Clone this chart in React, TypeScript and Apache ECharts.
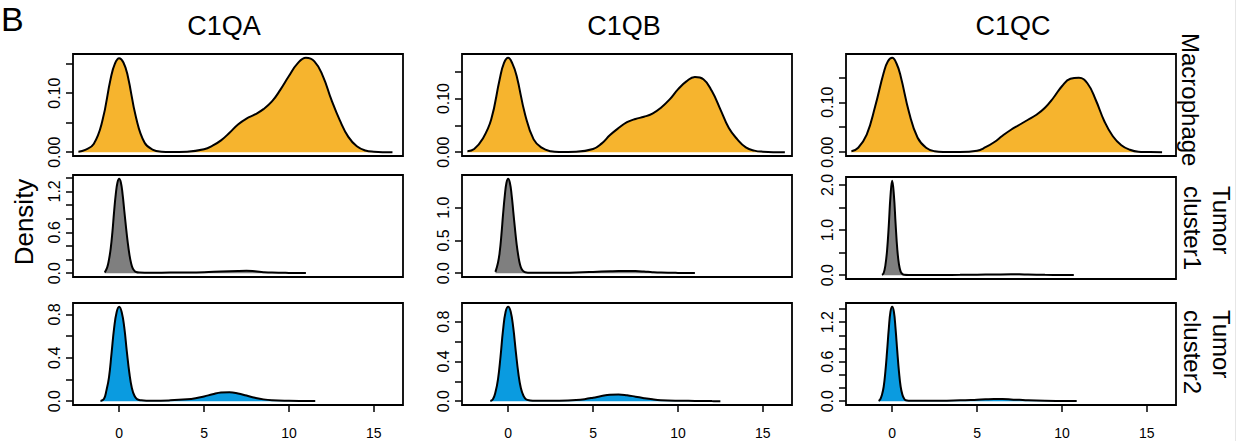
import React, { useEffect, useRef } from "react";
import * as echarts from "echarts";

// ---------- data ----------
const genes = ["C1QA", "C1QB", "C1QC"];
const groups = ["Macrophage", "Tumor\ncluster1", "Tumor\ncluster2"];
const fillColors = ["#F6B42E", "#7F7F7F", "#0A9BE0"];
const xTickValues = [0, 5, 10, 15];

const c1qaMacrophage: [number, number][] = [
  [-2.4, 0.001], [-2, 0.004], [-1.5, 0.014], [-1, 0.052], [-0.5, 0.125], [-0.25, 0.15], [0, 0.159],
  [0.25, 0.152], [0.5, 0.13], [1, 0.058], [1.5, 0.016], [2, 0.004], [2.5, 0.001], [3, 0.0005],
  [4, 0.001], [5, 0.005], [5.5, 0.011], [6, 0.02], [6.5, 0.033], [7, 0.047], [7.5, 0.057],
  [8, 0.064], [8.5, 0.073], [9, 0.086], [9.5, 0.106], [10, 0.129], [10.5, 0.15], [11, 0.16],
  [11.5, 0.154], [12, 0.129], [12.5, 0.089], [13, 0.054], [13.5, 0.026], [14, 0.01],
  [14.5, 0.003], [15, 0.001], [16.1, 0.0],
];
const c1qbMacrophage: [number, number][] = [
  [-2.4, 0.002], [-2, 0.006], [-1.5, 0.025], [-1, 0.061], [-0.5, 0.136], [-0.25, 0.166], [0, 0.176],
  [0.25, 0.165], [0.5, 0.142], [1, 0.07], [1.5, 0.024], [2, 0.008], [2.5, 0.002], [3, 0.0005],
  [4, 0.001], [5, 0.006], [5.5, 0.016], [6, 0.032], [6.5, 0.045], [7, 0.056], [7.5, 0.062],
  [8, 0.066], [8.5, 0.072], [9, 0.083], [9.5, 0.098], [10, 0.117], [10.5, 0.132], [11, 0.14],
  [11.5, 0.136], [12, 0.114], [12.5, 0.08], [13, 0.045], [13.5, 0.024], [14, 0.009],
  [14.5, 0.003], [15, 0.001], [16.3, 0.0],
];
const c1qcMacrophage: [number, number][] = [
  [-2.4, 0.002], [-2, 0.009], [-1.5, 0.035], [-1, 0.092], [-0.5, 0.159], [-0.25, 0.182], [0, 0.189],
  [0.25, 0.178], [0.5, 0.152], [1, 0.079], [1.5, 0.029], [2, 0.009], [2.5, 0.002], [3, 0.0005],
  [4, 0.0005], [5, 0.003], [5.5, 0.01], [6, 0.02], [6.5, 0.033], [7, 0.045], [7.5, 0.055],
  [8, 0.065], [8.5, 0.075], [9, 0.089], [9.5, 0.109], [10, 0.132], [10.5, 0.147], [11, 0.149],
  [11.5, 0.138], [12, 0.104], [12.5, 0.062], [13, 0.032], [13.5, 0.014], [14, 0.005],
  [14.5, 0.001], [15, 0.0005], [15.9, 0.0],
];
const c1qaTumor1: [number, number][] = [
  [-0.85, 0.01], [-0.7, 0.09], [-0.6, 0.2], [-0.5, 0.36], [-0.4, 0.6], [-0.3, 0.9], [-0.2, 1.16],
  [-0.1, 1.33], [0, 1.385], [0.1, 1.33], [0.2, 1.16], [0.3, 0.92], [0.4, 0.68], [0.5, 0.46],
  [0.6, 0.28], [0.7, 0.15], [0.8, 0.07], [0.9, 0.035], [1.0, 0.018], [1.2, 0.01], [1.5, 0.008],
  [2, 0.008], [3, 0.009], [4, 0.011], [5, 0.016], [6, 0.025], [7, 0.033], [7.5, 0.035],
  [8, 0.028], [8.5, 0.016], [9, 0.009], [10, 0.005], [11, 0.004],
];
const c1qbTumor1: [number, number][] = [
  [-0.75, 0.02], [-0.6, 0.16], [-0.5, 0.32], [-0.4, 0.58], [-0.3, 0.9], [-0.2, 1.18], [-0.1, 1.38],
  [0, 1.44], [0.1, 1.38], [0.2, 1.2], [0.3, 0.94], [0.4, 0.68], [0.5, 0.44], [0.6, 0.26],
  [0.7, 0.13], [0.8, 0.06], [0.9, 0.03], [1.0, 0.015], [1.2, 0.008], [1.5, 0.006], [2, 0.006],
  [3, 0.008], [4, 0.012], [5, 0.02], [6, 0.03], [6.5, 0.034], [7, 0.035], [7.5, 0.032],
  [8, 0.025], [8.5, 0.016], [9, 0.01], [10, 0.005], [11, 0.003],
];
const c1qcTumor1: [number, number][] = [
  [-0.6, 0.01], [-0.5, 0.05], [-0.4, 0.22], [-0.3, 0.55], [-0.2, 1.1], [-0.1, 1.75], [0, 2.09],
  [0.1, 1.78], [0.2, 1.15], [0.3, 0.58], [0.4, 0.24], [0.5, 0.08], [0.6, 0.025], [0.7, 0.01],
  [1, 0.006], [2, 0.005], [3, 0.006], [4, 0.008], [5, 0.012], [6, 0.016], [7, 0.02],
  [7.5, 0.019], [8, 0.015], [9, 0.008], [10, 0.005], [10.7, 0.004],
];
const c1qaTumor2: [number, number][] = [
  [-1.1, 0.003], [-0.9, 0.02], [-0.75, 0.1], [-0.6, 0.22], [-0.45, 0.44], [-0.3, 0.67], [-0.15, 0.82],
  [0, 0.87], [0.15, 0.82], [0.3, 0.68], [0.45, 0.46], [0.6, 0.26], [0.75, 0.12], [0.9, 0.05],
  [1.05, 0.02], [1.3, 0.008], [1.6, 0.004], [2, 0.004], [3, 0.008], [4, 0.018], [4.5, 0.028],
  [5, 0.044], [5.5, 0.064], [6, 0.08], [6.5, 0.083], [7, 0.072], [7.5, 0.052], [8, 0.032],
  [8.5, 0.017], [9, 0.009], [10, 0.004], [11, 0.002], [11.55, 0.001],
];
const c1qbTumor2: [number, number][] = [
  [-1.05, 0.003], [-0.9, 0.02], [-0.75, 0.09], [-0.6, 0.22], [-0.45, 0.45], [-0.3, 0.72], [-0.15, 0.9],
  [0, 0.95], [0.15, 0.9], [0.3, 0.74], [0.45, 0.5], [0.6, 0.28], [0.75, 0.13], [0.9, 0.055],
  [1.05, 0.02], [1.3, 0.008], [1.6, 0.004], [2, 0.004], [3, 0.006], [4, 0.013], [4.5, 0.021],
  [5, 0.035], [5.5, 0.052], [6, 0.065], [6.5, 0.068], [7, 0.06], [7.5, 0.046], [8, 0.031],
  [8.5, 0.019], [9, 0.011], [10, 0.005], [11, 0.003], [12, 0.001], [12.5, 0.0005],
];
const c1qcTumor2: [number, number][] = [
  [-0.8, 0.005], [-0.7, 0.03], [-0.6, 0.1], [-0.5, 0.22], [-0.4, 0.45], [-0.3, 0.76], [-0.2, 1.1],
  [-0.1, 1.36], [0, 1.435], [0.1, 1.36], [0.2, 1.1], [0.3, 0.76], [0.4, 0.45], [0.5, 0.22],
  [0.6, 0.1], [0.7, 0.04], [0.8, 0.015], [1, 0.008], [1.5, 0.006], [2, 0.006], [3, 0.008],
  [4, 0.013], [5, 0.024], [5.5, 0.03], [6, 0.034], [6.5, 0.033], [7, 0.028], [7.5, 0.021],
  [8, 0.014], [9, 0.007], [10, 0.004], [10.87, 0.002],
];

// rows = groups, cols = genes
const panelData = [
  [c1qaMacrophage, c1qbMacrophage, c1qcMacrophage],
  [c1qaTumor1, c1qbTumor1, c1qcTumor1],
  [c1qaTumor2, c1qbTumor2, c1qcTumor2],
];
const macroTicks = [0, 0.05, 0.1, 0.15];
const macroLabels = [0, 0.1];
const panelYTicks = [
  [macroTicks, macroTicks, macroTicks],
  [[0, 0.2, 0.4, 0.6, 0.8, 1.0, 1.2, 1.4], [0, 0.5, 1.0], [0, 0.5, 1.0, 1.5, 2.0]],
  [[0, 0.2, 0.4, 0.6, 0.8], [0, 0.2, 0.4, 0.6, 0.8], [0, 0.2, 0.4, 0.6, 0.8, 1.0, 1.2, 1.4]],
];
const panelYLabels = [
  [macroLabels, macroLabels, macroLabels],
  [[0, 0.6, 1.2], [0, 0.5, 1.0], [0, 1.0, 2.0]],
  [[0, 0.4, 0.8], [0, 0.4, 0.8], [0, 0.6, 1.2]],
];
const rowDecimals = [2, 1, 1];

// ---------- layout ----------
const X_MIN = -2.72;
const X_MAX = 16.72;
const colLeft = [73, 462, 846];
const rowTop = [
  [54, 175, 303],
  [54, 175, 303],
  [54, 177, 303],
];
const GRID_W = 330;
const GRID_H = 102;
const FONT = "'Liberation Sans', Arial, Helvetica, sans-serif";

function buildOption() {
  const grid: any[] = [];
  const xAxis: any[] = [];
  const yAxis: any[] = [];
  const series: any[] = [];
  let idx = 0;
  for (let r = 0; r < 3; r++) {
    for (let c = 0; c < 3; c++) {
      const data = panelData[r][c];
      const yMaxData = Math.max(...data.map((d) => d[1]));
      const bottomRow = r === 2;
      grid.push({
        left: colLeft[c],
        top: rowTop[c][r],
        width: GRID_W,
        height: GRID_H,
        show: true,
        borderColor: "#000",
        borderWidth: 1.8,
        backgroundColor: "transparent",
        containLabel: false,
      });
      xAxis.push({
        type: "value",
        gridIndex: idx,
        position: "bottom",
        min: X_MIN,
        max: X_MAX,
        axisLine: { show: false, onZero: false },
        splitLine: { show: false },
        axisTick: {
          show: bottomRow,
          inside: false,
          customValues: xTickValues,
          length: 7,
          lineStyle: { color: "#000", width: 1.5 },
        },
        axisLabel: {
          show: bottomRow,
          customValues: xTickValues,
          fontSize: 14,
          color: "#000",
          fontFamily: FONT,
          margin: 21,
        },
      });
      const dec = rowDecimals[r];
      yAxis.push({
        type: "value",
        gridIndex: idx,
        position: "left",
        min: -0.04 * yMaxData,
        max: 1.04 * yMaxData,
        axisLine: { show: false, onZero: false },
        splitLine: { show: false },
        axisTick: {
          show: true,
          inside: false,
          customValues: panelYTicks[r][c],
          length: 7,
          lineStyle: { color: "#000", width: 1.5 },
        },
        axisLabel: {
          show: true,
          customValues: panelYLabels[r][c],
          rotate: 90,
          fontSize: 16,
          color: "#000",
          fontFamily: FONT,
          margin: 11,
          formatter: (v: number) => v.toFixed(dec),
        },
      });
      series.push({
        type: "line",
        xAxisIndex: idx,
        yAxisIndex: idx,
        data,
        showSymbol: false,
        symbol: "none",
        smooth: 0.45,
        silent: true,
        lineStyle: { color: "#000", width: 2 },
        areaStyle: { color: fillColors[r], opacity: 1 },
        z: 3,
      });
      idx++;
    }
  }

  const titleX = [224, 624, 1013];
  const graphic: any[] = [
    {
      type: "text",
      x: 1,
      y: 2,
      style: { text: "B", fontSize: 34, fontFamily: FONT, fill: "#000", textAlign: "left", textVerticalAlign: "top" },
    },
    ...genes.map((g, i) => ({
      type: "text",
      x: titleX[i],
      y: 26,
      style: { text: g, fontSize: 27, fontFamily: FONT, fill: "#000", textAlign: "center", textVerticalAlign: "middle" },
    })),
    {
      type: "text",
      x: 24,
      y: 222,
      rotation: Math.PI / 2,
      style: { text: "Density", fontSize: 26, fontFamily: FONT, fill: "#000", textAlign: "center", textVerticalAlign: "middle" },
    },
    {
      type: "text",
      x: 1190,
      y: 33,
      rotation: -Math.PI / 2,
      style: { text: groups[0], fontSize: 24, fontFamily: FONT, fill: "#000", textAlign: "left", textVerticalAlign: "middle" },
    },
    {
      type: "text",
      x: 1207,
      y: 186,
      rotation: -Math.PI / 2,
      style: { text: groups[1], fontSize: 24, lineHeight: 29, fontFamily: FONT, fill: "#000", textAlign: "left", textVerticalAlign: "middle" },
    },
    {
      type: "text",
      x: 1207,
      y: 310,
      rotation: -Math.PI / 2,
      style: { text: groups[2], fontSize: 24, lineHeight: 29, fontFamily: FONT, fill: "#000", textAlign: "left", textVerticalAlign: "middle" },
    },
    {
      type: "line",
      shape: { x1: 1235.5, y1: 0, x2: 1235.5, y2: 441 },
      style: { stroke: "#e6e6e6", lineWidth: 1 },
    },
  ];

  return {
    animation: false,
    backgroundColor: "#fff",
    grid,
    xAxis,
    yAxis,
    series,
    graphic,
  };
}

export default function App() {
  const ref = useRef<HTMLDivElement>(null);
  useEffect(() => {
    document.body.style.margin = "0";
    const chart = echarts.init(ref.current!, undefined, { renderer: "svg" });
    chart.setOption(buildOption() as any);
    return () => chart.dispose();
  }, []);
  return <div ref={ref} style={{ width: 1239, height: 441, background: "#fff" }} />;
}
